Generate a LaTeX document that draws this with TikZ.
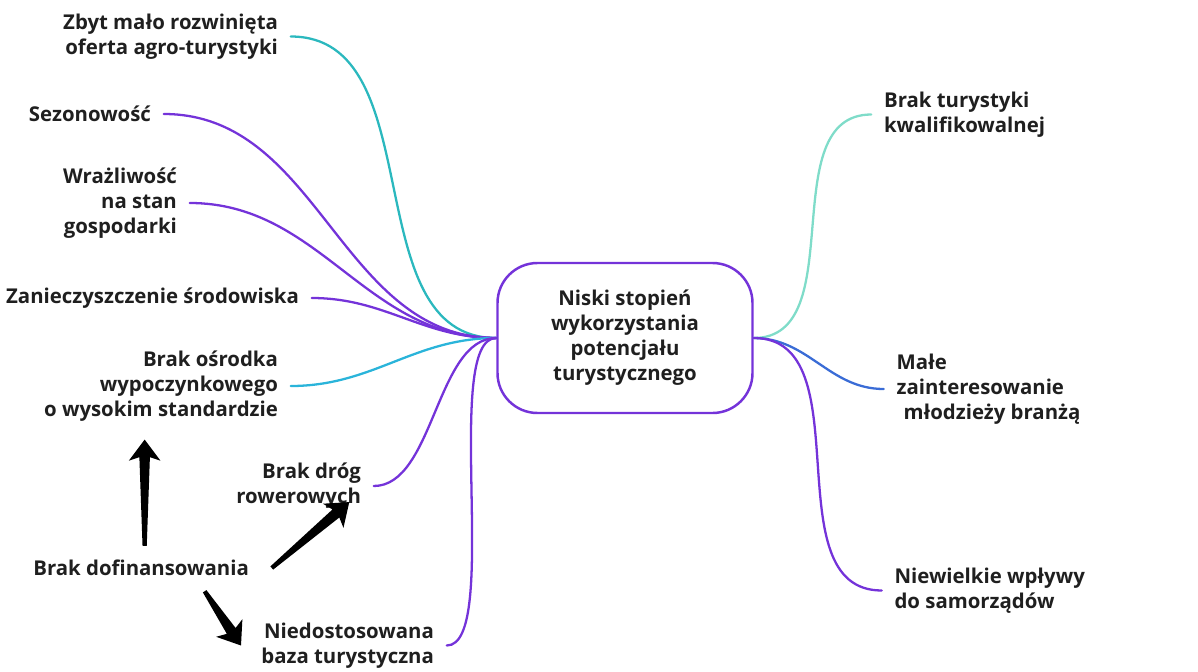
\documentclass[tikz,border=0pt]{standalone}
\usepackage{fontspec}
\setmainfont{Open Sans}
\usepackage{tikz}
\usetikzlibrary{positioning, arrows.meta, calc}
\definecolor{mapviolet}{HTML}{7433D9}
\definecolor{mapteal}{HTML}{2BB8BE}
\definecolor{mapcyan}{HTML}{2AB4DA}
\definecolor{mapmint}{HTML}{7FDCC9}
\definecolor{mapblue}{HTML}{3A6CD6}
\definecolor{mapink}{HTML}{1F1F1F}
% tapered black arrow from #1 (tail) to #2 (tip)
\newcommand\taper[2]{%
  \fill[black] ($(#1)!1.2pt!90:(#2)$) -- ($(#2)!10pt!(#1)!3pt!-90:(#1)$) -- ($(#2)!12pt!(#1)!9pt!-90:(#1)$)
    -- (#2) -- ($(#2)!12pt!(#1)!9pt!90:(#1)$) -- ($(#2)!10pt!(#1)!3pt!90:(#1)$) -- ($(#1)!1.2pt!-90:(#2)$) -- cycle;}

\begin{document}
\begin{tikzpicture}[
  leaf/.style={font=\fontsize{11.6}{14.2}\selectfont\bfseries, text=mapink, inner xsep=0.25cm, inner ysep=0pt},
  leafl/.style={leaf, align=right},
  leafr/.style={leaf, align=left},
  branch/.style={line width=1.3pt, line cap=round},
]
\useasboundingbox (0,0) rectangle (23.96,-13.42);

\node[draw=mapviolet, line width=1.4pt, rounded corners=0.8cm, minimum width=5.1cm, minimum height=3cm,
  align=center, text=mapink, font=\fontsize{11.6}{14.2}\selectfont\bfseries] (core) at (12.5,-6.76)
  {Niski stopień\\wykorzystania\\potencjału\\turystycznego};

% left side
\node[leafl, left=4.11cm of core, yshift=6.03cm] (zbyt) {Zbyt mało rozwinięta\\oferta agro-turystyki};
\node[leafl, left=6.65cm of core, yshift=4.48cm] (sezon) {Sezonowość};
\node[leafl, left=6.13cm of core, yshift=2.70cm] (wrazl) {Wrażliwość\\na stan\\gospodarki};
\node[leafl, left=3.69cm of core, yshift=0.80cm] (zanie) {Zanieczyszczenie środowiska};
\node[leafl, left=4.11cm of core, yshift=-0.96cm] (osrod) {Brak ośrodka\\wypoczynkowego\\o wysokim standardzie};
\node[leafl, left=2.45cm of core, yshift=-2.96cm] (drog) {Brak dróg\\rowerowych};
\node[leafl, left=0.99cm of core, yshift=-6.15cm] (niedost) {Niedostosowana\\baza turystyczna};
\node[leafl, left=4.69cm of core, yshift=-4.60cm] (dofin) {Brak dofinansowania};

% right side
\node[leafr, right=2.35cm of core, yshift=4.47cm] (tury) {Brak turystyki\\kwalifikowalnej};
\node[leafr, right=2.6cm of core, yshift=-1.02cm] (male) {Małe\\zainteresowanie\\\hspace{4pt}młodzieży branżą};
\node[leafr, right=2.56cm of core, yshift=-5.05cm] (wplyw) {Niewielkie wpływy\\do samorządów};

\draw[branch, mapteal] (core.west) to[out=180, in=0] (zbyt.east);
\draw[branch, mapviolet] (core.west) to[out=180, in=0] (sezon.east);
\draw[branch, mapviolet] (core.west) to[out=180, in=0] (wrazl.east);
\draw[branch, mapviolet] (core.west) to[out=180, in=0] (zanie.east);
\draw[branch, mapcyan] (core.west) to[out=180, in=0] (osrod.east);
\draw[branch, mapviolet] (core.west) to[out=180, in=0, looseness=0.8] (drog.east);
\draw[branch, mapviolet] (core.west) to[out=180, in=0, looseness=0.45] (niedost.east);

\draw[branch, mapmint] (core.east) to[out=0, in=180] (tury.west);
\draw[branch, mapblue] (core.east) to[out=0, in=180] (male.west);
\draw[branch, mapviolet] (core.east) to[out=0, in=180] (wplyw.west);

% black arrows
\coordinate (upfoot) at ([xshift=0.07cm, yshift=0.28cm]dofin.north);
\coordinate (uptip) at ([yshift=-0.36cm]upfoot |- osrod.south);
\coordinate (rfoot) at ([xshift=0.2cm]dofin.east);
\coordinate (rtip) at ([xshift=-0.49cm, yshift=0.14cm]drog.south east);
\coordinate (dfoot) at ([xshift=1.27cm, yshift=-0.3cm]dofin.south);
\coordinate (dtip) at ([xshift=-0.15cm]niedost.west);
\taper{upfoot}{uptip}
\taper{rfoot}{rtip}
\taper{dfoot}{dtip}
\end{tikzpicture}
\end{document}
